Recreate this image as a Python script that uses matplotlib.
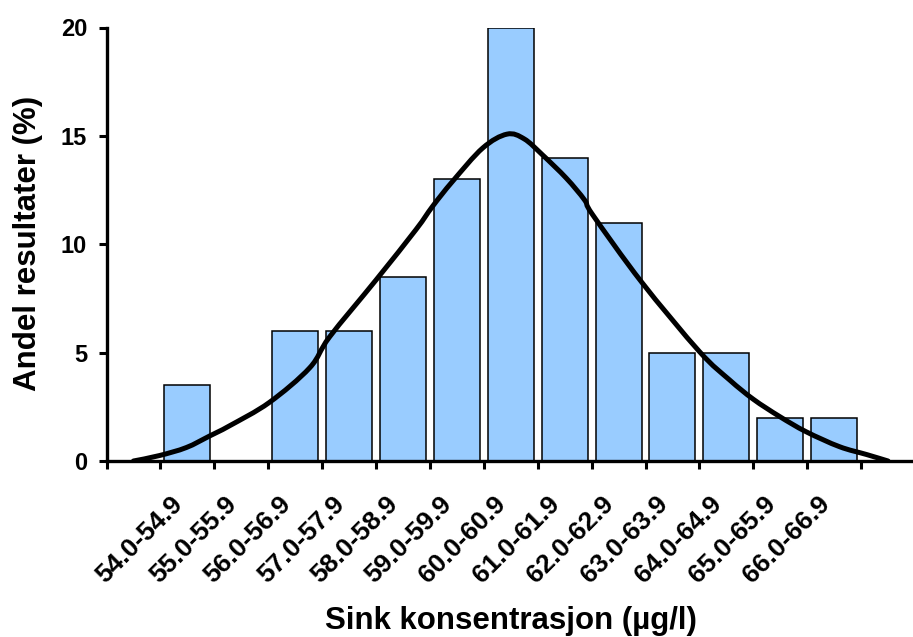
import numpy as np
import matplotlib.pyplot as plt
from matplotlib.path import Path
from matplotlib.patches import PathPatch

plt.rcParams['font.family'] = ['Liberation Sans', 'DejaVu Sans']
plt.rcParams['font.weight'] = 'bold'

# categories (slot 0 and slot 14 are empty padding slots on the axis)
categories = ['54.0-54.9', '55.0-55.9', '56.0-56.9', '57.0-57.9', '58.0-58.9',
              '59.0-59.9', '60.0-60.9', '61.0-61.9', '62.0-62.9', '63.0-63.9',
              '64.0-64.9', '65.0-65.9', '66.0-66.9']
shares = [3.5, 0, 6, 6, 8.5, 13, 20, 14, 11, 5, 5, 2, 2]

# fitted distribution curve (x in category slots)
curve_x = [0.0, 0.48, 0.98, 1.41, 1.78, 2.52, 3.27, 3.64, 4.50, 5.24, 5.55,
           5.92, 6.48, 6.93, 7.25, 7.59, 8.03, 8.37, 8.52, 9.42, 10.50, 11.06,
           11.50, 11.99, 12.48, 13.10, 13.60, 14.0]
curve_y = [0.0, 0.25, 0.62, 1.15, 1.62, 2.70, 4.30, 5.73, 8.35, 10.67, 11.75,
           12.90, 14.44, 15.08, 14.86, 14.12, 13.05, 12.04, 11.36, 8.28, 5.05, 3.74,
           2.85, 2.05, 1.35, 0.66, 0.30, 0.0]


def smooth_path(xs, ys):
    """Cubic Bezier path through the points (Excel-style smoothed line)."""
    p = np.column_stack([xs, ys])
    verts = [p[0]]
    codes = [Path.MOVETO]
    for i in range(len(p) - 1):
        p0 = p[i - 1] if i > 0 else p[i]
        p3 = p[i + 2] if i + 2 < len(p) else p[i + 1]
        c1 = p[i] + (p[i + 1] - p0) / 6
        c2 = p[i + 1] - (p3 - p[i]) / 6
        verts += [c1, c2, p[i + 1]]
        codes += [Path.CURVE4] * 3
    return Path(verts, codes)


fig = plt.figure(figsize=(9.13, 6.37), dpi=100)
ax = fig.add_axes([106.5 / 913, 176 / 637, 808.5 / 913, 433.5 / 637])

pos = np.arange(1, len(categories) + 1)
vals = np.array(shares, dtype=float)
mask = vals > 0
ax.bar(pos[mask], vals[mask], width=0.853, color='#99CCFF',
       edgecolor='black', linewidth=1.1, zorder=2)
ax.add_patch(PathPatch(smooth_path(curve_x, curve_y), facecolor='none',
                       edgecolor='black', linewidth=3.6, zorder=3,
                       joinstyle='round', capstyle='round'))

ax.set_xlim(-0.5, 14.5)
ax.set_ylim(0, 20)

for side in ['top', 'right']:
    ax.spines[side].set_visible(False)
for side in ['left', 'bottom']:
    ax.spines[side].set_linewidth(2.4)

ax.set_yticks([0, 5, 10, 15, 20])
ax.tick_params(axis='y', direction='out', length=6, width=2.2, labelsize=17, pad=8)

ax.set_xticks(np.arange(-0.5, 15, 1.0))
ax.set_xticklabels([])
ax.tick_params(axis='x', which='major', direction='out', length=6, width=2.2)
ax.set_xticks(pos, minor=True)
ax.set_xticklabels(categories, minor=True, rotation=45, ha='right', va='top',
                   fontsize=19, fontweight='bold')
ax.tick_params(axis='x', which='minor', length=0, pad=22)

fig.text(0.560, 0.0126, 'Sink konsentrasjon (µg/l)', ha='center', va='baseline',
         fontsize=22.5, fontweight='bold')
fig.text(0.0307, 0.6185, 'Andel resultater (%)', ha='center', va='center',
         rotation=90, fontsize=22.5, fontweight='bold')

fig.savefig('out.png', dpi=100)
